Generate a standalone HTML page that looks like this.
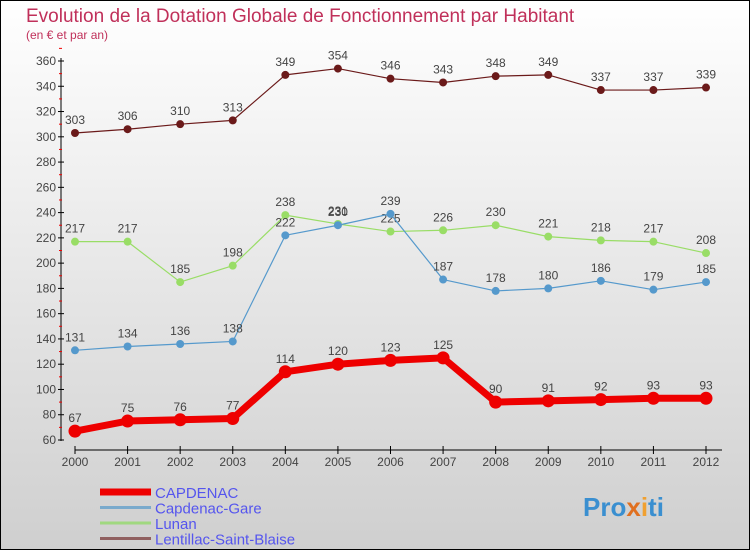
<!DOCTYPE html>
<html><head><meta charset="utf-8"><style>
body{margin:0}
#c{width:750px;height:550px;position:relative;font-family:"Liberation Sans",sans-serif}
</style></head><body>
<div id="c">
<svg id="s" width="750" height="550" xmlns="http://www.w3.org/2000/svg">
<defs><linearGradient id="bg" x1="0" y1="0" x2="0" y2="1"><stop offset="0" stop-color="#ffffff"/><stop offset="1" stop-color="#cfcfcf"/></linearGradient></defs>
<rect x="0.5" y="0.5" width="749" height="549" fill="url(#bg)" stroke="#000"/>
<text x="26" y="22" font-size="19" fill="#c0305a">Evolution de la Dotation Globale de Fonctionnement par Habitant</text>
<text x="26" y="39" font-size="12" fill="#c0305a">(en € et par an)</text>
<g id="axes"></g><g id="series"></g><g id="legend"></g>
<text x="583" y="516" font-size="26" font-weight="bold" fill="#3a8fd0">Pro<tspan fill="#e07020">x</tspan><tspan fill="#f0a030">i</tspan>ti</text>
</svg></div>
<script>
const years=[2000,2001,2002,2003,2004,2005,2006,2007,2008,2009,2010,2011,2012];
const capdenac=[67,75,76,77,114,120,123,125,90,91,92,93,93];
const capdenacGare=[131,134,136,138,222,230,239,187,178,180,186,179,185];
const lunan=[217,217,185,198,238,231,225,226,230,221,218,217,208];
const lentillac=[303,306,310,313,349,354,346,343,348,349,337,337,339];
const yTicks=[60,80,100,120,140,160,180,200,220,240,260,280,300,320,340,360];
const NS="http://www.w3.org/2000/svg";
const X=i=>75+i*(631/12);
const Y=v=>440-(v-60)*(379/300);
function el(t,a,p){const e=document.createElementNS(NS,t);for(const k in a)e.setAttribute(k,a[k]);p.appendChild(e);return e;}
const ax=document.getElementById('axes');
let a=el('line',{x1:61,y1:58,x2:61,y2:441,stroke:'#000'},ax);


a=el('line',{x1:75,y1:450,x2:722,y2:450,stroke:'#000'},ax);


yTicks.forEach(v=>{
 el('line',{x1:58,y1:Y(v),x2:64,y2:Y(v),stroke:'#000'},ax);
 el('line',{x1:59,y1:Y(v+10),x2:62,y2:Y(v+10),stroke:'#e00'},ax);
 const t=el('text',{x:56,y:Y(v)+4,'font-size':12,'text-anchor':'end',fill:'#444'},ax);
 t.textContent=v;
 
 
});
years.forEach((y,i)=>{
 el('line',{x1:X(i),y1:446,x2:X(i),y2:454,stroke:'#000'},ax);
 const t=el('text',{x:X(i),y:466,'font-size':12,'text-anchor':'middle',fill:'#444'},ax);
 t.textContent=y;
 
 
});
const sg=document.getElementById('series');
function draw(vals,color,w,r,name){
 const g=el('g',{},sg);
 
 
 const l=el('polyline',{points:vals.map((v,i)=>X(i)+','+Y(v)).join(' '),fill:'none',stroke:color,'stroke-width':w,'stroke-linejoin':'round'},g);
 
 
 vals.forEach((v,i)=>{
  const c=el('circle',{cx:X(i),cy:Y(v),r:r,fill:color},g);
  
  
  const t=el('text',{x:X(i),y:Y(v)-9,'font-size':12,'text-anchor':'middle',fill:'#444'},g);
  t.textContent=v;
  
  
 });
}
draw(lentillac,'#6b1a1a',1.2,4,'lentillac');
draw(lunan,'#99dd66',1.2,4,'lunan');
draw(capdenacGare,'#5599cc',1.2,4,'capdenac-gare');
draw(capdenac,'#ee0000',7,6.5,'capdenac');
const lg=document.getElementById('legend');
const legs=[['CAPDENAC','#ee0000',7],['Capdenac-Gare','#7aaacc',3],['Lunan','#a0d880',3],['Lentillac-Saint-Blaise','#906060',3]];
legs.forEach((d,i)=>{
 const y=492+i*15.5;
 const l=el('line',{x1:100,y1:y,x2:151,y2:y,stroke:d[1],'stroke-width':d[2]},lg);
 
 
 const t=el('text',{x:155,y:y+6,'font-size':15,fill:'#5555ee'},lg);
 t.textContent=d[0];
 
 
});
</script>
</body></html>
